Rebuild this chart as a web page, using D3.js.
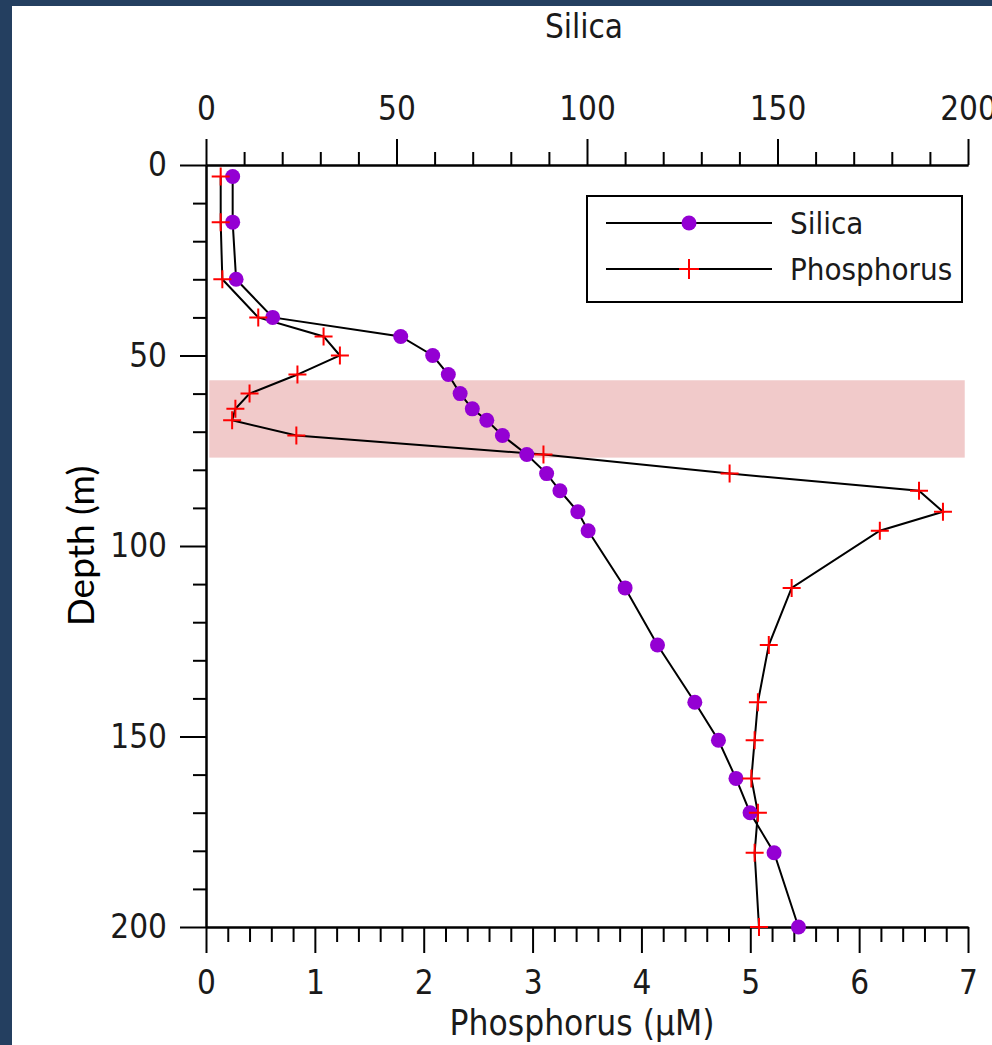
<!DOCTYPE html>
<html>
<head>
<meta charset="utf-8">
<script src="https://cdn.jsdelivr.net/npm/d3@7"></script>
<style>
  html, body { margin: 0; padding: 0; background: #243f60; }
  svg { display: block; }
  .narrow { font-family: "Liberation Sans Narrow", "DejaVu Sans Condensed", "Liberation Sans", sans-serif; fill: #1a1a1a; }
</style>
</head>
<body>
<div id="chart"></div>
<script>
// sample depths (m), shared by both profiles
const depths = [3, 15, 30, 40, 45, 50, 55, 60, 64, 67, 71, 76, 81, 85.5, 91, 96,
  111, 126, 141, 151, 161, 170, 180.5, 200];

// Silica (top axis)
const silica = [7.0, 7.0, 7.9, 17.5, 51.1, 59.5, 63.6, 66.7, 69.9, 73.7, 77.8, 84.2,
  89.4, 92.9, 97.6, 100.3, 110.0, 118.5, 128.3, 134.5, 139.1, 142.8, 149.1, 155.5];

// Phosphorus in uM (bottom axis)
const phosphorus = [0.135, 0.135, 0.15, 0.48, 1.08, 1.23, 0.84, 0.40, 0.27, 0.24, 0.83, 3.10,
  4.81, 6.55, 6.77, 6.19, 5.38, 5.17, 5.07, 5.04, 5.01, 5.07, 5.04, 5.08];

const silicaTicks = [0, 50, 100, 150, 200];
const phosTicks = [0, 1, 2, 3, 4, 5, 6, 7];
const depthTicks = [0, 50, 100, 150, 200];

// shaded depth band (m)
const bandDepth = [56.5, 76.8];

const seriesNames = ['Silica', 'Phosphorus'];

const W = 992, H = 1045;
const margin = { left: 206, right: 24, top: 165, bottom: 118 };

const svg = d3.select('#chart').append('svg')
  .attr('width', W)
  .attr('height', H);

// frame: dark strip on left/top, white panel
svg.append('rect').attr('width', W).attr('height', H).attr('fill', '#243f60');
svg.append('rect').attr('x', 12).attr('y', 6).attr('width', W - 12).attr('height', H - 6).attr('fill', '#fff');

const xP = d3.scaleLinear().domain([0, 7]).range([margin.left, W - margin.right]);
const xS = d3.scaleLinear().domain([0, 200]).range([margin.left, W - margin.right]);
const y = d3.scaleLinear().domain([0, 200]).range([margin.top, H - margin.bottom]);

// pink band
svg.append('rect')
  .attr('x', xP(0.03))
  .attr('y', y(bandDepth[0]))
  .attr('width', xP(6.97) - xP(0.03))
  .attr('height', y(bandDepth[1]) - y(bandDepth[0]))
  .attr('fill', '#f1caca');

function styleAxis(g) {
  g.select('.domain').attr('stroke', '#000').attr('stroke-width', 2);
  g.selectAll('.tick line').attr('stroke', '#000').attr('stroke-width', 2);
  g.selectAll('.tick text').attr('class', 'narrow').attr('fill', '#1a1a1a').style('font-size', '33px');
}

// minor ticks
const minorS = d3.range(0, 201, 10).filter(v => v % 50 !== 0);
const minorP = d3.range(0, 7.001, 0.2).map(v => +v.toFixed(1)).filter(v => Math.abs(v - Math.round(v)) > 1e-6);
const minorD = d3.range(0, 201, 10).filter(v => v % 50 !== 0);

svg.append('g').attr('transform', `translate(0,${margin.top})`)
  .call(d3.axisTop(xS).tickValues(minorS).tickSize(13).tickSizeOuter(0).tickFormat(''))
  .call(styleAxis);
svg.append('g').attr('transform', `translate(0,${H - margin.bottom})`)
  .call(d3.axisBottom(xP).tickValues(minorP).tickSize(15).tickSizeOuter(0).tickFormat(''))
  .call(styleAxis);
svg.append('g').attr('transform', `translate(${margin.left},0)`)
  .call(d3.axisLeft(y).tickValues(minorD).tickSize(13).tickSizeOuter(0).tickFormat(''))
  .call(styleAxis);

// major ticks + labels
svg.append('g').attr('transform', `translate(0,${margin.top})`)
  .call(d3.axisTop(xS).tickValues(silicaTicks).tickSize(26).tickSizeOuter(0).tickPadding(19).tickFormat(d3.format('d')))
  .call(styleAxis);
svg.append('g').attr('transform', `translate(0,${H - margin.bottom})`)
  .call(d3.axisBottom(xP).tickValues(phosTicks).tickSize(26).tickSizeOuter(0).tickPadding(18).tickFormat(d3.format('d')))
  .call(styleAxis);
svg.append('g').attr('transform', `translate(${margin.left},0)`)
  .call(d3.axisLeft(y).tickValues(depthTicks).tickSize(26).tickSizeOuter(0).tickPadding(13).tickFormat(d3.format('d')))
  .call(styleAxis);

// axis titles
svg.append('text').attr('class', 'narrow')
  .attr('x', xS(100) - 3).attr('y', 38)
  .attr('text-anchor', 'middle')
  .style('font-size', '33px')
  .text('Silica');

svg.append('text').attr('class', 'narrow')
  .attr('x', xP(3.5) - 5).attr('y', 1035)
  .attr('text-anchor', 'middle')
  .style('font-size', '35px')
  .text('Phosphorus (\u00b5M)');

svg.append('text')
  .attr('transform', `translate(94,${y(100)})rotate(-90)`)
  .attr('text-anchor', 'middle')
  .style('font-family', 'Lato, "Open Sans", sans-serif')
  .style('font-size', '37px').attr('fill', '#000')
  .text('Depth (m)');

// profile lines
const silicaPts = depths.map((d, i) => [xS(silica[i]), y(d)]);
const phosPts = depths.map((d, i) => [xP(phosphorus[i]), y(d)]);
const line = d3.line();

svg.append('path').attr('d', line(phosPts))
  .attr('fill', 'none').attr('stroke', '#000').attr('stroke-width', 2);
svg.append('path').attr('d', line(silicaPts))
  .attr('fill', 'none').attr('stroke', '#000').attr('stroke-width', 2);

// markers
function plus(g, cx, cy, s) {
  g.append('path')
    .attr('d', `M${cx - s},${cy}H${cx + s}M${cx},${cy - s}V${cy + s}`)
    .attr('stroke', '#ff0000').attr('stroke-width', 2).attr('fill', 'none');
}

const markers = svg.append('g');
markers.selectAll('circle').data(silicaPts).join('circle')
  .attr('cx', d => d[0]).attr('cy', d => d[1]).attr('r', 7.5)
  .attr('fill', '#9400d3');
phosPts.forEach(p => plus(markers, p[0], p[1], 9));

// legend
const lg = svg.append('g').attr('transform', 'translate(587,196)');
lg.append('rect').attr('width', 375).attr('height', 106)
  .attr('fill', '#fff').attr('stroke', '#000').attr('stroke-width', 2);
seriesNames.forEach((name, i) => {
  const ly = 27 + i * 46;
  lg.append('line').attr('x1', 19).attr('x2', 185).attr('y1', ly).attr('y2', ly)
    .attr('stroke', '#000').attr('stroke-width', 2);
  if (i === 0) {
    lg.append('circle').attr('cx', 102).attr('cy', ly).attr('r', 7.5).attr('fill', '#9400d3');
  } else {
    plus(lg, 102, ly, 10);
  }
  lg.append('text').attr('class', 'narrow').attr('x', 203).attr('y', ly + 11)
    .style('font-size', '31px')
    .text(name);
});
</script>
</body>
</html>
